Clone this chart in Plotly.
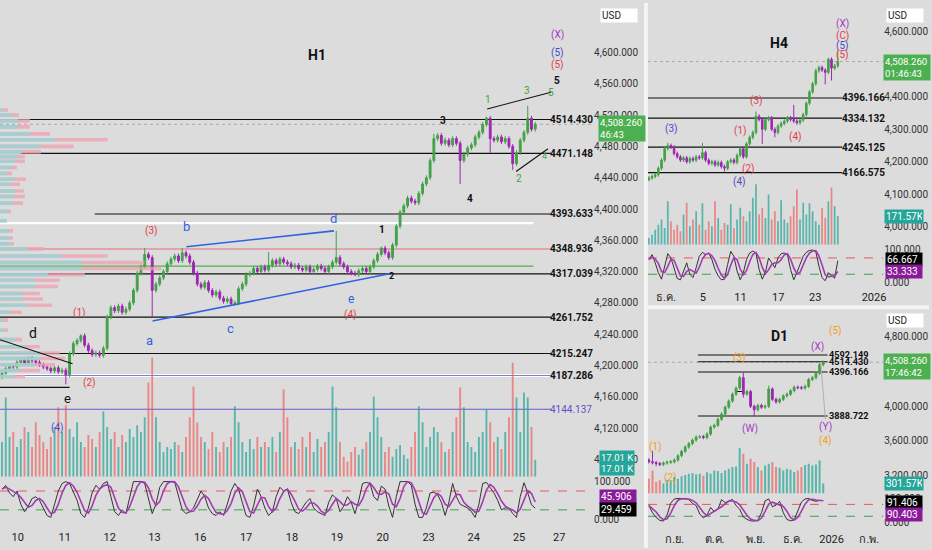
import plotly.graph_objects as go

W, H = 932, 550
def px(x): return x / W
def py(y): return 1 - y / H

# ================= DATA =================
# ---- H1 (2-hour steps) ----
h1_open0 = 4185
h1_close = [4190,4196,4200,4198,4204,4207,4203,4209,4206,4204,
            4201,4198,4196,4193,4197,4192,4194,4188,4215,4228,
            4232,4238,4226,4219,4214,4216,4213,4222,4262,4274,
            4270,4276,4268,4272,4280,4296,4318,4326,4342,4338,
            4296,4304,4312,4320,4330,4336,4340,4334,4344,4340,
            4332,4318,4304,4300,4306,4296,4290,4294,4286,4282,
            4285,4279,4280,4298,4304,4316,4318,4324,4320,4326,
            4322,4328,4334,4330,4336,4332,4330,4326,4328,4324,
            4322,4326,4320,4323,4327,4324,4320,4326,4332,4338,
            4330,4326,4320,4318,4316,4321,4324,4320,4326,4334,
            4342,4350,4344,4338,4354,4378,4396,4404,4414,4410,
            4408,4420,4432,4440,4462,4490,4494,4484,4488,4482,
            4490,4484,4462,4470,4478,4482,4492,4498,4508,4516,
            4490,4488,4492,4486,4490,4480,4458,4472,4488,4498,
            4516,4502,4508.26]
h1_high_extra = {21: 4240, 38: 4350, 48: 4350, 71: 4345, 89: 4372, 101: 4352,
                 115: 4496, 129: 4518, 140: 4532}
h1_low_extra = {17: 4176, 40: 4262, 61: 4276, 94: 4314, 122: 4432, 130: 4472, 136: 4450}
h1_volume_k = [35,80,40,45,30,38,50,45,30,55,
               42,35,28,40,50,70,45,72,48,40,
               55,35,30,42,38,30,45,66,50,38,
               45,30,42,35,48,40,52,45,60,95,
               120,60,35,25,30,28,35,32,25,40,
               60,91,55,40,35,28,45,30,25,35,
               30,40,71,55,35,25,38,28,40,30,
               35,30,40,25,45,88,60,30,35,28,
               40,30,45,25,38,30,35,45,91,70,
               35,20,15,25,30,22,28,35,45,81,
               60,40,25,30,20,28,32,22,18,30,
               45,71,55,30,40,50,45,35,25,28,
               45,60,90,70,35,30,25,40,45,68,
               55,35,40,28,45,60,115,80,45,85,
               80,50,17.01]
h1_stoch_k = [80,90,70,60,75,40,20, 35,55,60,50,30,10,5, 40,75,95,100,95,70,50,
              15,5,30,70,90,80,95, 100,60,20,10,25,15, 60,100,100,100,95,55,15,
              40,85,100,100,100,98,60, 25,15,20,30,55,75, 60,30,15,10,20,10,
              40,75,95,80,45,10,5, 35,80,60,30,10,20, 60,85,75,80,45,20,15,
              30,45,55,30,20,15,10, 45,65,55,20,35,60,45, 15,50,95,98,95,60,50,
              88,80,35,5,60,100,100, 100,90,40,5,5,30,70, 72,65,45,10,45,95,
              60,40,35,30,20,5,40, 95,98,85,70,50,25,30, 30,15,5,60,97,70,38.26,29.459]
h1_day_ticks = [4.2, 16.7, 28.7, 40.6, 52.8, 65.0, 77.2, 89.2, 101.4, 113.6, 125.6, 137.7, 148.4]
h1_day_labels = ["10", "11", "12", "13", "16", "17", "18", "19", "20", "23", "24", "25", "27"]
h1_price_ticks = list(range(4080, 4601, 40))
h1_levels = [4514.430, 4471.148, 4393.633, 4348.936, 4317.039, 4261.752, 4215.247, 4187.286, 4144.137]
# volume profile (left): price rows, buy part, total
vp_price = [4526.5,4520,4512.6,4505,4496,4488.5,4480,4473,4467,4461,4453,4445.5,4438,4431.6,
            4423,4416,4407.5,4397,4385,4372,4363,4355.6,4349,4340,4331.5,4324,4316,4309,
            4301,4292,4285,4277,4268,4258,4245,4233,4224,4216,4209,4201,4193.5,4186]
vp_buy = [3,12,18,18,30,55,40,22,18,15,12,7,15,10,15,15,12,8,7,8,10,10,28,62,82,82,48,35,
          35,22,23,28,10,3,5,15,25,40,40,35,20,15]
vp_total = [8,19,30,30,50,108,74,41,25,25,17,12,26,20,24,25,23,11,7,13,13,14,44,108,145,162,85,60,
            58,40,43,52,22,8,8,22,40,60,65,55,40,25]

# ---- H4 (8-hour steps) ----
h4_open0 = 4145
h4_close = [4150,4155,4160,4180,4205,4240,4250,4245,4225,4215,
            4205,4212,4200,4210,4205,4215,4212,4228,4205,4195,
            4200,4190,4198,4185,4180,4200,4205,4198,4220,4240,
            4215,4255,4275,4290,4340,4330,4300,4330,4335,4300,
            4290,4310,4318,4325,4335,4330,4325,4320,4328,4345,
            4380,4415,4440,4480,4490,4482,4475,4515,4488,4495,
            4508.26]
h4_high_extra = {6: 4258, 17: 4258, 34: 4355, 46: 4375, 57: 4520, 60: 4539}
h4_low_extra = {0: 4140, 24: 4170, 36: 4255, 40: 4275, 56: 4438, 58: 4450}
h4_volume_k = [40,60,90,120,150,100,260,140,90,120,
               80,180,250,110,150,200,120,248,90,140,
               110,260,160,90,130,120,242,100,150,220,
               170,140,200,280,360,180,220,160,300,150,
               200,140,265,150,130,170,230,330,150,250,
               180,248,200,140,120,220,160,260,342,230,
               171.57]
h4_stoch_k = [70,85,60,30,10,50,88,75,40,12,
              8,35,60,25,15,45,80,92,85,90,
              70,40,20,8,10,55,95,80,35,8,
              30,70,90,96,90,40,10,30,75,60,
              45,75,88,90,85,40,8,30,55,80,
              92,98,99,95,50,15,5,30,20,13.333,
              66.667]
h4_ticks = [5.4, 17.1, 29.1, 41.1, 52.8, 71.5]
h4_tick_labels = ["ธ.ค.", "5", "11", "17", "23", "2026"]
h4_price_ticks = [4000, 4100, 4200, 4300, 4400, 4500, 4600]
h4_levels = [4396.166, 4334.132, 4245.125, 4166.575]

# ---- D1 (2-day steps) ----
d1_open0 = 3380
d1_close = [3360,3350,3340,3330,3345,3355,3360,3380,3430,3480,
            3530,3570,3610,3645,3650,3640,3680,3760,3780,3850,
            3910,3990,4060,4140,4210,4330,4140,4170,4000,3960,
            4010,3990,4000,4200,4080,4050,4080,4120,4140,4180,
            4220,4215,4210,4230,4310,4330,4380,4480,4508.26]
d1_high_extra = {1: 3486, 25: 4350, 26: 4390, 33: 4240}
d1_low_extra = {2: 3310, 26: 4100, 29: 3886}
d1_volume_k = [450,700,350,400,300,420,380,500,450,520,
               560,600,620,580,600,540,640,600,700,680,
               620,700,750,800,820,1380,1200,900,1050,950,
               800,700,850,900,950,800,780,700,750,720,
               650,700,800,860,900,850,880,1000,301.57]
d1_stoch_k = [70,40,20,8,5,30,80,98,100,99,
              100,95,80,70,35,18,30,62,45,55,
              95,82,90,96,70,55,22,12,6,5,
              8,40,90,98,65,72,88,40,12,6,
              10,45,85,98,100,92,88.0,91.803,91.406]
d1_ticks = [7.1, 18.1, 29.4, 39.6, 50.3, 60.7]
d1_tick_labels = ["ก.ย.", "ต.ค.", "พ.ย.", "ธ.ค.", "2026", "ก.พ."]
d1_price_ticks = [3200, 3600, 4000, 4400, 4800]
d1_levels = [4592.149, 4514.430, 4396.166, 3888.722]

last_price = 4508.26

# ================= STYLE =================
BG = "#dcdcdc"
UP = "#43a047"
DN = "#9c27b0"
VUP = "rgba(38,166,154,0.72)"
VDN = "rgba(239,83,80,0.62)"
KCOL = "#333333"
DCOL = "#a23bb0"
FONT = "Roboto, Liberation Sans, DejaVu Sans, sans-serif"
PURPLE = "#a23bc0"
BLUE2 = "#4a4ac8"
RED = "#e0404a"
GREEN = "#43a047"
BLUE = "#2f63e0"
ORANGE = "#f0a020"
BLACK = "#111111"

fig = go.Figure()

def ohlc(closes, open0, hi_extra, lo_extra, wick):
    opens = [open0] + closes[:-1]
    highs, lows = [], []
    for i, (o, c) in enumerate(zip(opens, closes)):
        highs.append(hi_extra.get(i, max(o, c) + wick))
        lows.append(lo_extra.get(i, min(o, c) - wick))
    return opens, highs, lows

def sma3(vals):
    out = []
    for i in range(len(vals)):
        w = vals[max(0, i - 2):i + 1]
        out.append(sum(w) / len(w))
    return out

def add_panel(closes, open0, hx, lx, wick, vols, stoch, xa, ya, yv, ys, barw):
    n = len(closes)
    idx = list(range(n))
    o, h, l = ohlc(closes, open0, hx, lx, wick)
    vcol = [VUP if c >= oo else VDN for oo, c in zip(o, closes)]
    fig.add_trace(go.Bar(x=list(range(len(vols))), y=vols, marker=dict(color=vcol[:len(vols)], line=dict(width=0)),
                         width=barw, xaxis=xa, yaxis=yv, showlegend=False, hoverinfo="skip"))
    fig.add_trace(go.Candlestick(x=idx, open=o, high=h, low=l, close=closes, xaxis=xa, yaxis=ya,
                                 increasing=dict(line=dict(color=UP, width=1), fillcolor=UP),
                                 decreasing=dict(line=dict(color=DN, width=1), fillcolor=DN),
                                 whiskerwidth=0, showlegend=False, hoverinfo="skip"))
    sx = list(range(len(stoch)))
    fig.add_trace(go.Scatter(x=sx, y=stoch, mode="lines", line=dict(color=KCOL, width=1),
                             xaxis=xa, yaxis=ys, showlegend=False, hoverinfo="skip"))
    fig.add_trace(go.Scatter(x=sx, y=sma3(stoch), mode="lines", line=dict(color=DCOL, width=1.6),
                             xaxis=xa, yaxis=ys, showlegend=False, hoverinfo="skip"))

# volume profile
fig.add_trace(go.Bar(x=vp_total, y=vp_price, orientation="h", width=4.6, xaxis="x2", yaxis="y",
                     marker=dict(color="rgba(240,160,178,0.75)", line=dict(width=0)),
                     showlegend=False, hoverinfo="skip"))
fig.add_trace(go.Bar(x=vp_buy, y=vp_price, orientation="h", width=4.6, xaxis="x2", yaxis="y",
                     marker=dict(color="rgba(150,214,214,0.8)", line=dict(width=0)),
                     showlegend=False, hoverinfo="skip"))

add_panel(h1_close, h1_open0, h1_high_extra, h1_low_extra, 3, h1_volume_k, h1_stoch_k, "x", "y", "y2", "y3", 0.5)
add_panel(h4_close, h4_open0, h4_high_extra, h4_low_extra, 6, h4_volume_k, h4_stoch_k, "x3", "y4", "y5", "y6", 0.55)
add_panel(d1_close, d1_open0, d1_high_extra, d1_low_extra, 20, d1_volume_k, d1_stoch_k, "x4", "y7", "y8", "y9", 0.55)

tickfont = dict(family=FONT, size=10, color="#333")
def xax(dom, rng, pos, tv, tt):
    return dict(domain=dom, range=rng, anchor="free", position=pos, tickvals=tv, ticktext=tt,
                showgrid=False, zeroline=False, showline=False, ticks="",
                tickfont=dict(family=FONT, size=11, color="#222"), rangeslider=dict(visible=False),
                fixedrange=True)
def yax(dom, rng, anchor, tv=None, fmt=",.3f", visible=True):
    d = dict(domain=dom, range=rng, anchor=anchor, side="right", showgrid=False, zeroline=False,
             showline=False, ticks="", tickfont=tickfont, fixedrange=True, visible=visible)
    if tv is not None:
        d["tickvals"] = tv
        d["tickformat"] = fmt
    return d

fig.update_layout(
    width=W, height=H, margin=dict(l=0, r=0, t=0, b=0),
    paper_bgcolor=BG, plot_bgcolor="rgba(0,0,0,0)", barmode="overlay", hovermode=False,
    font=dict(family=FONT),
    xaxis=xax([0, px(595)], [-0.53, 157.4], py(531), h1_day_ticks, h1_day_labels),
    xaxis2=dict(domain=[0, px(595)], range=[0, 595], overlaying="x", anchor="y", visible=False, fixedrange=True),
    yaxis=yax([py(478), 1], [4057.9, 4663.3], "x", h1_price_ticks),
    yaxis2=yax([py(478), py(340)], [0, 138], "x", visible=False),
    yaxis3=yax([py(527), py(480)], [-15.8, 107.9], "x", [0, 100], ".3f"),
    xaxis3=xax([px(650), px(886)], [-0.32, 74.4], py(289), h4_ticks, h4_tick_labels),
    yaxis4=yax([py(245), 1], [3941.5, 4688.4], "x3", h4_price_ticks),
    yaxis5=yax([py(244), py(160)], [0, 496], "x3", visible=False),
    yaxis6=yax([py(286), py(246)], [-12.1, 109.1], "x3", [0, 100], ".3f"),
    xaxis4=xax([px(650), px(886)], [-0.27, 64.5], py(533), d1_ticks, d1_tick_labels),
    yaxis7=yax([py(490), py(310)], [3051.4, 5108.6], "x4", d1_price_ticks),
    yaxis8=yax([py(495), py(420)], [0, 2250], "x4", visible=False),
    yaxis9=yax([py(528), py(496)], [-16.7, 116.7], "x4", [0, 100], ".3f"),
)

shapes = []
def hline(xref, yref, x0, x1, y, color, width=1, dash="solid", layer="below"):
    shapes.append(dict(type="line", xref=xref, yref=yref, x0=x0, x1=x1, y0=y, y1=y,
                       line=dict(color=color, width=width, dash=dash), layer=layer))
def seg(xref, yref, x0, y0, x1, y1, color, width=1.2):
    shapes.append(dict(type="line", xref=xref, yref=yref, x0=x0, x1=x1, y0=y0, y1=y1,
                       line=dict(color=color, width=width), layer="above"))

# H1 levels
hline("x", "y", -0.53, 141.5, 4382, "#ffffff", 2.2)
hline("x", "y", -0.53, 146.2, 4187.286, "#ffffff", 3)
hline("x", "y", -0.53, 141.5, 4327, "#4caf50", 1.3)
for lv in h1_levels:
    col = BLACK
    x0 = -0.53
    if lv == 4348.936: col = "#e86c7a"
    if lv == 4187.286: col = "#8080d0"
    if lv == 4144.137: col = "#6a5acd"
    if lv == 4393.633: x0 = 24.7
    if lv == 4471.148: x0 = 4.8
    hline("x", "y", x0, 146.2, lv, col, 1.1)
hline("x domain", "y", 0, 1, last_price, "#a8a8a8", 1, "dot")
# H1 stoch bands
hline("x domain", "y3", 0, 1, 75, "#e8575a", 1, "dash")
hline("x domain", "y3", 0, 1, 25, "#3fa34d", 1, "dash")
# H1 trendlines
seg("x", "y", 49.1, 4351.8, 88.4, 4372.0, BLUE, 1.6)
seg("x", "y", 40.1, 4256.8, 103.5, 4317.6, BLUE, 1.6)
seg("x", "y", 129.2, 4527.8, 146.2, 4549.3, BLACK, 1.1)
seg("x", "y", 136.9, 4448.0, 145.4, 4477.0, BLACK, 1.1)
seg("x", "y", -0.53, 4233.0, 18.8, 4202.3, BLACK, 1.1)
seg("x", "y", -0.53, 4172.0, 18.0, 4172.0, BLACK, 1.1)

# H4
for lv in h4_levels:
    hline("x3", "y4", -0.32, 61.4, lv, BLACK, 1.1)
hline("x3 domain", "y4", 0, 1, last_price, "#a8a8a8", 1, "dot")
hline("x3 domain", "y6", 0, 1, 75, "#e8575a", 1, "dash")
hline("x3 domain", "y6", 0, 1, 25, "#3fa34d", 1, "dash")

# D1
for lv in d1_levels:
    hline("x4", "y7", 13.5, 49.2, lv, BLACK, 1.1)
hline("x4", "y7", 23.9, 25.8, 4171, BLACK, 1.1)
hline("x4 domain", "y7", 0, 1, last_price, "#a8a8a8", 1, "dot")
hline("x4 domain", "y9", 0, 1, 75, "#e8575a", 1, "dash")
hline("x4 domain", "y9", 0, 1, 25, "#3fa34d", 1, "dash")
seg("x4", "y7", 47.3, 4508, 48.6, 3851, "#b0b0b0", 1)

# separators
shapes.append(dict(type="rect", xref="paper", yref="paper", x0=px(646), x1=px(650), y0=0, y1=1,
                   fillcolor="#f4f4f4", line=dict(width=0), layer="above"))
shapes.append(dict(type="rect", xref="paper", yref="paper", x0=px(650), x1=1, y0=py(309), y1=py(305),
                   fillcolor="#f4f4f4", line=dict(width=0), layer="above"))
fig.update_layout(shapes=shapes)

ann = []
def lab(t, x, y, color, size=10, bold=False):
    ann.append(dict(text=f"<b>{t}</b>" if bold else t, x=px(x), y=py(y), xref="paper", yref="paper",
                    showarrow=False, font=dict(family=FONT, size=size, color=color),
                    xanchor="center", yanchor="middle"))

wave_labels = [
    ("H1", 318, 52, BLACK, 14, True), ("(X)", 559, 32, PURPLE, 10, False), ("(5)", 559, 50, BLUE2, 10, False),
    ("(5)", 559, 63, RED, 10, False), ("5", 559, 78, BLACK, 10, True), ("3", 529, 88, GREEN, 10, False),
    ("5", 553, 90, GREEN, 10, False), ("1", 490, 97, GREEN, 10, False), ("3", 444, 119, BLACK, 10, True),
    ("4", 472, 197, BLACK, 10, True), ("2", 521, 177, GREEN, 10, False), ("4", 546, 154, GREEN, 9, False),
    ("d", 335, 217, BLUE, 13, False), ("1", 383, 229, BLACK, 10, True), ("2", 393, 276, BLACK, 9, True),
    ("e", 352, 299, BLUE, 12, False), ("(4)", 352, 315, RED, 10, False), ("(3)", 152, 230, RED, 10, False),
    ("b", 187, 226, BLUE, 13, False), ("c", 231, 328, BLUE, 13, False), ("a", 150, 341, BLUE, 13, False),
    ("(1)", 80, 313, RED, 10, False), ("(2)", 90, 383, RED, 10, False), ("d", 33, 333, BLACK, 14, False),
    ("e", 68, 399, BLACK, 13, False), ("(4)", 58, 429, BLUE2, 10, False),
    ("H4", 782, 40, BLACK, 14, True), ("(X)", 845, 21, PURPLE, 10, False), ("(C)", 845, 33, RED, 10, False),
    ("(5)", 845, 43, BLUE2, 10, False), ("(5)", 845, 52, RED, 10, False), ("(3)", 674, 127, BLUE2, 10, False),
    ("(4)", 742, 181, BLUE2, 10, False), ("(1)", 743, 129, RED, 10, False), ("(2)", 751, 168, RED, 10, False),
    ("(3)", 759, 99, RED, 10, False), ("(4)", 798, 135, RED, 10, False),
    ("D1", 782, 336, BLACK, 14, True), ("(5)", 838, 331, ORANGE, 10, False), ("(X)", 820, 347, PURPLE, 10, False),
    ("(3)", 742, 358, ORANGE, 10, False), ("(W)", 752, 430, PURPLE, 10, False), ("(Y)", 828, 428, PURPLE, 10, False),
    ("(4)", 828, 442, ORANGE, 10, False), ("(1)", 658, 448, ORANGE, 10, False), ("(2)", 673, 479, ORANGE, 10, False),
]
for t, x, y, c, s, b in wave_labels:
    lab(t, x, y, c, s, b)

# level labels
def lvl_label(v, xc, yref, color=BLACK, bold=True, size=10):
    t = f"{v:.3f}"
    ann.append(dict(text=f"<b>{t}</b>" if bold else t, x=px(xc), y=v, xref="paper", yref=yref,
                    showarrow=False, font=dict(family=FONT, size=size, color=color),
                    xanchor="center", yanchor="middle"))
for lv in h1_levels:
    lvl_label(lv, 573, "y", "#5e4fc8" if lv == 4144.137 else BLACK, lv != 4144.137)
for lv in h4_levels:
    lvl_label(lv, 866, "y4")
for lv in d1_levels:
    lvl_label(lv, 852, "y7", size=9.2)

def box(text, x0, yc, bg, fg="white", size=10, w=None, align="left"):
    d = dict(text=text, x=px(x0), y=py(yc), xref="paper", yref="paper", showarrow=False,
             xanchor="left", yanchor="middle", bgcolor=bg, borderpad=1, align=align,
             font=dict(family=FONT, size=size, color=fg))
    if w: d["width"] = w
    ann.append(d)

# H1 boxes
box("USD", 602, 13, "#ffffff", "#222", 10, 34)
box(f"{last_price:,.3f}<br>46:43", 600, 127, "#4caf50", "white", 9.6, 44)
box(f"{h1_volume_k[-1]:.2f} K", 601, 459, "#26a69a", "white", 9.5, 32)
box(f"{h1_volume_k[-1]:.2f} K", 601, 470, "#26a69a", "white", 9.5, 32)
box(f"{sma3(h1_stoch_k)[-1]:.3f}", 601, 498, "#8b1a9b", "white", 10, 34)
box(f"{h1_stoch_k[-1]:.3f}", 601, 511, "#000000", "white", 10, 34)
# H4 boxes
box("USD", 889, 13, "#ffffff", "#222", 10, 34)
box(f"{last_price:,.3f}<br>01:46:43", 886, 65, "#4caf50", "white", 9.6, 44)
box(f"{h4_volume_k[-1]:.2f}K", 887, 215, "#26a69a", "white", 10, 36)
box(f"{h4_stoch_k[-1]:.3f}", 888, 259, "#000000", "white", 10, 34)
box(f"{sma3(h4_stoch_k)[-1]:.3f}", 888, 271, "#8b1a9b", "white", 10, 34)
# D1 boxes
box("USD", 889, 320, "#ffffff", "#222", 10, 34)
box(f"{last_price:,.3f}<br>17:46:42", 886, 367, "#4caf50", "white", 9.6, 44)
box(f"{d1_volume_k[-1]:.2f}K", 887, 485, "#26a69a", "white", 10, 36)
box(f"{d1_stoch_k[-1]:.3f}", 888, 504, "#000000", "white", 10, 34)
box(f"{sma3(d1_stoch_k)[-1]:.3f}", 888, 516, "#8b1a9b", "white", 10, 34)

fig.update_layout(annotations=ann)
fig.write_html("out.html", config={"displayModeBar": False},
               post_script="document.body.style.margin='0px';document.body.style.overflow='hidden';")
